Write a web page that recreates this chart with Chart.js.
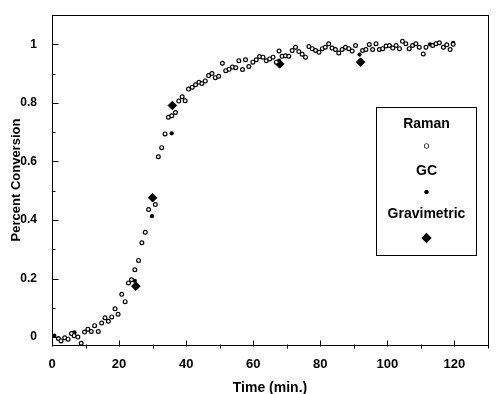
<!DOCTYPE html>
<html>
<head>
<meta charset="utf-8">
<script src="https://cdn.jsdelivr.net/npm/chart.js@4.4.1/dist/chart.umd.min.js"></script>
<style>
  html, body { margin: 0; padding: 0; background: #fff; }
  #wrap { width: 497px; height: 394px; }
</style>
</head>
<body>
<div id="wrap"><canvas id="chart"></canvas></div>
<script>
// Raman (open circles)
const ramanTime = [1.9, 2.7, 3.8, 4.8, 5.8, 6.6, 7.7, 8.7, 9.7, 10.7, 11.7, 12.7, 13.8, 14.8, 15.8, 16.8, 17.8, 18.8, 19.7, 20.8,
  21.8, 22.8, 23.7, 24.7, 25.8, 26.8, 27.8, 28.8, 30.8, 31.7, 32.7, 33.7, 34.7, 35.7, 36.8, 37.8, 38.8, 39.7, 40.7, 41.8,
  42.8, 43.8, 44.7, 45.7, 46.7, 47.7, 48.7, 49.7, 50.8, 51.8, 52.8, 53.8, 54.8, 55.7, 56.8, 57.7, 58.7, 59.9, 60.9, 61.9,
  62.9, 63.9, 64.9, 65.9, 66.9, 67.7, 68.6, 69.6, 70.6, 71.6, 72.6, 73.6, 74.6, 75.6, 76.6, 77.6, 78.6, 79.6, 80.6, 81.5,
  82.5, 83.5, 84.5, 85.5, 86.5, 87.5, 88.5, 89.5, 90.5, 92.6, 93.6, 94.6, 95.6, 96.6, 97.6, 98.6, 99.6, 100.6, 101.6, 102.6,
  103.6, 104.5, 105.5, 106.5, 107.5, 108.5, 109.5, 110.7, 111.5, 113.5, 114.5, 115.5, 116.7, 117.7, 118.7, 119.6];
const ramanConv = [-0.005, -0.013, -0.002, -0.007, 0.012, 0.005, 0.0, -0.021, 0.017, 0.027, 0.019, 0.039, 0.019, 0.048, 0.066, 0.054, 0.069, 0.097, 0.078, 0.146,
  0.121, 0.185, 0.196, 0.23, 0.262, 0.322, 0.358, 0.436, 0.453, 0.616, 0.647, 0.694, 0.751, 0.756, 0.767, 0.806, 0.821, 0.807, 0.847, 0.853,
  0.862, 0.870, 0.866, 0.875, 0.893, 0.900, 0.886, 0.891, 0.935, 0.910, 0.915, 0.922, 0.920, 0.944, 0.914, 0.947, 0.924, 0.939, 0.947, 0.958,
  0.956, 0.944, 0.950, 0.956, 0.939, 0.977, 0.959, 0.961, 0.959, 0.979, 0.990, 0.975, 0.966, 0.956, 0.992, 0.985, 0.979, 0.973, 0.985, 0.990,
  1.002, 0.987, 0.982, 0.970, 0.982, 0.990, 0.985, 0.977, 0.996, 0.979, 0.982, 0.999, 0.982, 1.002, 0.982, 0.985, 0.994, 0.996, 0.987, 0.996,
  0.985, 1.010, 1.002, 0.985, 0.996, 1.002, 0.990, 0.967, 0.990, 0.996, 1.002, 1.005, 0.990, 0.998, 0.982, 1.0];

// GC (small filled dots)
const gcTime = [0.7, 6.7, 24.7, 29.8, 35.7, 67.7, 91.7, 112.7, 119.6];
const gcConv = [0.005, 0.016, 0.192, 0.413, 0.696, 0.944, 0.965, 1.0, 1.005];

// Gravimetric (diamonds)
const gravTime = [25, 30, 35.9, 67.9, 92];
const gravConv = [0.174, 0.476, 0.791, 0.933, 0.939];

const xTicks = [0, 20, 40, 60, 80, 100, 120];
const xMinor = [10, 30, 50, 70, 90, 110, 130];
const yTicks = [0, 0.2, 0.4, 0.6, 0.8, 1];
const yMinor = [0.1, 0.3, 0.5, 0.7, 0.9];

const toPoints = (xs, ys) => xs.map((x, i) => ({ x, y: ys[i] }));
const FONT = '"Liberation Sans", Arial, sans-serif';

// frame, inward tick marks and the boxed legend
const framePlugin = {
  id: 'frame',
  afterDraw(chart) {
    const { ctx, chartArea: a, scales } = chart;
    const xs = scales.x, ys = scales.y;
    ctx.save();
    ctx.strokeStyle = '#000';
    ctx.lineWidth = 1;
    ctx.strokeRect(Math.round(a.left) + 0.5, Math.round(a.top) + 0.5,
      Math.round(a.right - a.left), Math.round(a.bottom - a.top));

    ctx.beginPath();
    const by = Math.round(a.bottom) + 0.5;
    xTicks.forEach(v => {
      const px = Math.round(xs.getPixelForValue(v)) + 0.5;
      ctx.moveTo(px, by - 5); ctx.lineTo(px, by + 1);
    });
    xMinor.forEach(v => {
      const px = Math.round(xs.getPixelForValue(v)) + 0.5;
      ctx.moveTo(px, by - 1); ctx.lineTo(px, by + 3);
    });
    const lx = Math.round(a.left) + 0.5;
    yTicks.forEach(v => {
      const py = Math.round(ys.getPixelForValue(v)) + 0.5;
      ctx.moveTo(lx, py); ctx.lineTo(lx + 6, py);
    });
    yMinor.forEach(v => {
      const py = Math.round(ys.getPixelForValue(v)) + 0.5;
      ctx.moveTo(lx, py); ctx.lineTo(lx + 3, py);
    });
    ctx.stroke();

    // legend box
    const bx = 376.5, bt = 107.5, bw = 100, bh = 148;
    ctx.fillStyle = '#fff';
    ctx.fillRect(bx, bt, bw, bh);
    ctx.strokeRect(bx, bt, bw, bh);
    const cx = bx + bw / 2;
    ctx.fillStyle = '#000';
    ctx.font = 'bold 14px ' + FONT;
    ctx.textAlign = 'center';
    ctx.textBaseline = 'middle';
    const rows = [124, 171, 214];
    const marks = [146, 192, 238];
    chart.data.datasets.forEach((ds, i) => {
      ctx.fillStyle = '#000';
      ctx.fillText(ds.label, cx, rows[i]);
      Chart.helpers.drawPoint(ctx, {
        pointStyle: ds.pointStyle,
        radius: ds.pointRadius,
        borderWidth: ds.borderWidth,
        rotation: 0
      }, cx, marks[i]);
      ctx.fillStyle = ds.backgroundColor;
      ctx.strokeStyle = ds.borderColor;
      ctx.lineWidth = ds.borderWidth;
      if (ds.borderWidth > 0) ctx.stroke();
      ctx.fill();
    });
    ctx.restore();
  }
};

new Chart(document.getElementById('chart'), {
  type: 'scatter',
  data: {
    datasets: [
      {
        label: 'Raman',
        data: toPoints(ramanTime, ramanConv),
        pointStyle: 'circle',
        pointRadius: 1.9,
        borderWidth: 1.2,
        borderColor: '#000',
        backgroundColor: '#fff'
      },
      {
        label: 'GC',
        data: toPoints(gcTime, gcConv),
        pointStyle: 'circle',
        pointRadius: 2.1,
        borderWidth: 0,
        borderColor: '#000',
        backgroundColor: '#000'
      },
      {
        label: 'Gravimetric',
        data: toPoints(gravTime, gravConv),
        pointStyle: 'rectRot',
        pointRadius: 4.3,
        borderWidth: 1,
        borderColor: '#000',
        backgroundColor: '#000'
      }
    ]
  },
  options: {
    responsive: true,
    maintainAspectRatio: false,
    animation: false,
    layout: { padding: { top: 15, right: 9, left: 0, bottom: 0 } },
    plugins: { legend: { display: false }, tooltip: { enabled: false } },
    scales: {
      x: {
        type: 'linear',
        min: 0,
        max: 130,
        afterBuildTicks: s => { s.ticks = xTicks.map(v => ({ value: v })); },
        afterFit: s => { s.height = 49; },
        grid: { display: false },
        border: { display: false },
        ticks: { color: '#000', padding: 4, font: { family: FONT, size: 13, weight: 'bold' } },
        title: {
          display: true,
          text: 'Time (min.)',
          color: '#000',
          padding: { top: 0, bottom: -3 },
          font: { family: FONT, size: 14, weight: 'bold' }
        }
      },
      y: {
        min: -0.027,
        max: 1.1,
        afterBuildTicks: s => { s.ticks = yTicks.map(v => ({ value: v })); },
        afterFit: s => { s.width = 52; },
        grid: { display: false },
        border: { display: false },
        ticks: {
          color: '#000',
          padding: 7,
          font: { family: FONT, size: 12, weight: 'bold' },
          callback: v => (v === 0 || v === 1) ? String(v) : v.toFixed(1)
        },
        title: {
          display: true,
          text: 'Percent Conversion',
          color: '#000',
          padding: { top: 9, bottom: 0 },
          font: { family: FONT, size: 13, weight: 'bold' }
        }
      }
    }
  },
  plugins: [framePlugin]
});
</script>
</body>
</html>
